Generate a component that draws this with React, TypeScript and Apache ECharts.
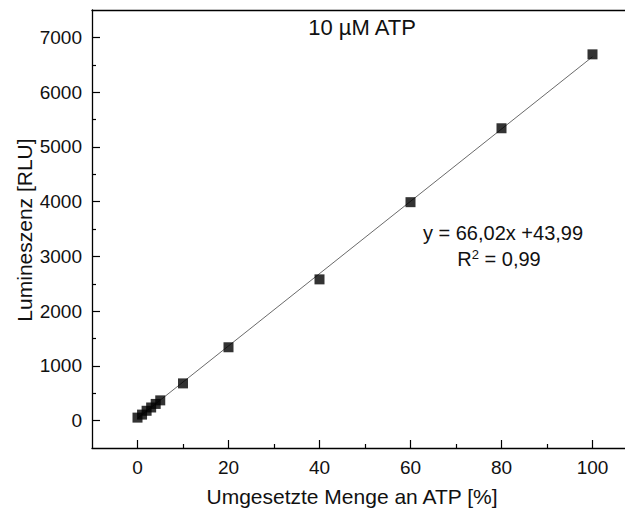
import React, { useEffect, useRef } from "react";
import * as echarts from "echarts";

const xValues = [0, 1, 2, 3, 4, 5, 10, 20, 40, 60, 80, 100];
const yValues = [55, 110, 180, 240, 305, 370, 680, 1340, 2580, 3990, 5340, 6690];
const fitSlope = 66.02;
const fitIntercept = 43.99;
const fitRange = [0, 100];
const xMajorTicks = [0, 20, 40, 60, 80, 100];
const xMinorTicks = [10, 30, 50, 70, 90];
const yMajorTicks = [0, 1000, 2000, 3000, 4000, 5000, 6000, 7000];
const yMinorTicks = [500, 1500, 2500, 3500, 4500, 5500, 6500];
const titleText = "10 µM ATP";
const xName = "Umgesetzte Menge an ATP [%]";
const yName = "Lumineszenz [RLU]";
const eqText = "y = 66,02x +43,99";
const r2Text = "R{sup|2} = 0,99";

const FONT = "Liberation Sans, Arial, sans-serif";

export default function App() {
  const ref = useRef<HTMLDivElement>(null);
  useEffect(() => {
    if (!ref.current) return;
    const chart = echarts.init(ref.current, null, { renderer: "svg" });
    const points = xValues.map((x, i) => [x, yValues[i]]);
    const fit = fitRange.map((x) => [x, fitSlope * x + fitIntercept]);
    const line = { color: "#000", width: 1.3 };
    const hiddenLine = { color: "rgba(0,0,0,0)", width: 0 };
    const tickStyle = { color: "#000", width: 1.2 };
    const base = {
      type: "value" as const,
      splitLine: { show: false },
    };
    const xBase = { ...base, min: -10, max: 110 };
    const yBase = { ...base, min: -500, max: 7500 };
    const gridBox = { left: 92, right: 22, top: 10, bottom: 63 };
    chart.setOption({
      animation: false,
      backgroundColor: "#fff",
      grid: [gridBox, gridBox, gridBox],
      xAxis: [
        {
          ...xBase,
          gridIndex: 0,
          position: "bottom",
          axisLine: { show: true, onZero: false, lineStyle: line },
          axisTick: { show: true, inside: true, length: 8, customValues: xMajorTicks, lineStyle: tickStyle },
          axisLabel: {
            customValues: xMajorTicks,
            formatter: (v: number) => String(v),
            color: "#111",
            fontFamily: FONT,
            fontSize: 19,
            margin: 10,
          },
        },
        {
          ...xBase,
          gridIndex: 1,
          position: "bottom",
          axisLine: { show: true, onZero: false, lineStyle: hiddenLine },
          axisTick: { show: true, inside: true, length: 4, customValues: xMinorTicks, lineStyle: tickStyle },
          axisLabel: { show: true, customValues: xMinorTicks, formatter: () => "" },
        },
        {
          ...xBase,
          gridIndex: 2,
          position: "top",
          axisLine: { show: true, onZero: false, lineStyle: line },
          axisTick: { show: false },
          axisLabel: { show: false },
        },
      ],
      yAxis: [
        {
          ...yBase,
          gridIndex: 0,
          position: "left",
          axisLine: { show: true, onZero: false, lineStyle: line },
          axisTick: { show: true, inside: true, length: 8, customValues: yMajorTicks, lineStyle: tickStyle },
          axisLabel: {
            customValues: yMajorTicks,
            formatter: (v: number) => String(v),
            color: "#111",
            fontFamily: FONT,
            fontSize: 19,
            margin: 10,
          },
        },
        {
          ...yBase,
          gridIndex: 1,
          position: "left",
          axisLine: { show: true, onZero: false, lineStyle: hiddenLine },
          axisTick: { show: true, inside: true, length: 4, customValues: yMinorTicks, lineStyle: tickStyle },
          axisLabel: { show: true, customValues: yMinorTicks, formatter: () => "" },
        },
        {
          ...yBase,
          gridIndex: 2,
          show: false,
        },
      ],
      series: [
        {
          type: "line",
          xAxisIndex: 0,
          yAxisIndex: 0,
          data: fit,
          symbol: "none",
          lineStyle: { color: "#444", width: 0.8 },
          z: 1,
        },
        {
          type: "scatter",
          xAxisIndex: 0,
          yAxisIndex: 0,
          data: points,
          symbol: "rect",
          symbolSize: 10,
          itemStyle: { color: "#000" },
          z: 3,
        },
      ],
      graphic: [
        {
          type: "text",
          x: 362,
          y: 27,
          style: { text: titleText, font: `22px ${FONT}`, fill: "#111", align: "center", verticalAlign: "middle" },
        },
        {
          type: "text",
          x: 503,
          y: 233,
          style: { text: eqText, font: `20px ${FONT}`, fill: "#111", align: "center", verticalAlign: "middle" },
        },
        {
          type: "text",
          x: 499,
          y: 259,
          style: {
            text: r2Text,
            font: `20px ${FONT}`,
            fill: "#111",
            align: "center",
            verticalAlign: "middle",
            rich: {
              sup: { font: `13px ${FONT}`, fill: "#111", verticalAlign: "top", padding: [0, 0, 10, 0] },
            },
          },
        },
        {
          type: "text",
          x: 352,
          y: 496,
          style: { text: xName, font: `21px ${FONT}`, fill: "#111", align: "center", verticalAlign: "middle" },
        },
        {
          type: "text",
          x: 24,
          y: 230,
          rotation: Math.PI / 2,
          style: { text: yName, font: `21px ${FONT}`, fill: "#111", align: "center", verticalAlign: "middle" },
        },
      ],
    });
    return () => chart.dispose();
  }, []);
  return (
    <div
      style={{
        position: "fixed",
        left: 0,
        top: 0,
        width: 625,
        height: 511,
        overflow: "hidden",
        background: "#fff",
      }}
    >
      <div ref={ref} style={{ width: 660, height: 511 }} />
    </div>
  );
}
